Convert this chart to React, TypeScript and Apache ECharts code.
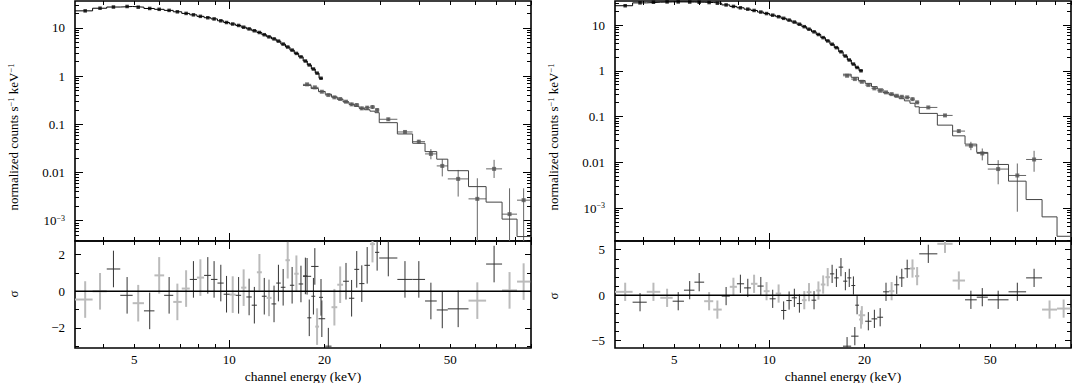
import React, { useEffect, useRef } from "react";
import * as echarts from "echarts";

// ---------- axis ranges / ticks ----------
const X_MIN = 3.25;
const X_MAX = 90;
const X_LABEL_VALUES = [5, 10, 20, 50];
const X_MINOR_TICKS = [4, 5, 6, 7, 8, 9, 20, 30, 40, 50, 60, 70, 80, 90];
const X_MAJOR_TICKS = [10];

const LEFT_Y_RANGE = [3.8e-4, 36];
const RIGHT_Y_RANGE = [1.9e-4, 33.5];
const LOG_LABEL_EXPONENTS = [1, 0, -1, -2, -3];

const LEFT_RES_RANGE = [-3.1, 2.75];
const LEFT_RES_LABELS = [-2, 0, 2];
const LEFT_RES_TICKS = [-3, -1, 1];
const RIGHT_RES_RANGE = [-5.8, 5.95];
const RIGHT_RES_LABELS = [-5, 0, 5];
const RIGHT_RES_TICKS = [-4, -3, -2, -1, 1, 2, 3, 4];

// ---------- low-energy (black) spectra ----------
const PCA_ENERGY = [3.5, 3.9, 4.3, 4.75, 5.15, 5.6, 6.0, 6.45, 6.85, 7.3, 7.7, 8.1, 8.55, 8.95, 9.4, 9.8, 10.25, 10.7, 11.1, 11.55, 12.0, 12.45, 12.9, 13.35, 13.85, 14.3, 14.8, 15.3, 15.8, 16.3, 16.85, 17.4, 17.9, 18.45, 18.95, 19.5];

const LEFT_PCA_RATE = [22.5, 25.5, 27, 27.7, 26.8, 25.2, 24.2, 23.0, 21.5, 19.9, 18.6, 17.3, 16.2, 15.3, 14.0, 12.9, 12.0, 11.2, 10.3, 9.5, 8.7, 8.0, 7.2, 6.5, 5.9, 5.3, 4.6, 4.0, 3.45, 2.95, 2.5, 2.05, 1.7, 1.4, 1.15, 0.9];
const LEFT_PCA_RESID = [-0.45, 0.0, 1.22, -0.22, -0.65, -1.07, 0.87, -0.22, -0.58, 0.15, 0.65, 0.75, 0.87, 0.65, 0.45, -0.16, -0.18, -0.22, 0.2, -0.31, -0.76, 1.04, -0.27, -0.36, -0.69, 0.45, 0.22, 1.7, 0.33, 0.96, 0.4, 0.84, -1.45, -0.27, -1.93, -0.33];
const LEFT_PCA_LIGHT = [1, 1, 0, 0, 1, 0, 1, 0, 1, 1, 0, 1, 0, 0, 0, 0, 1, 0, 1, 0, 0, 1, 0, 1, 0, 0, 0, 1, 0, 1, 0, 0, 0, 0, 1, 0];

const RIGHT_PCA_RATE = [26.4, 30.5, 31.5, 32, 32, 31.8, 31.5, 31, 30, 27.5, 25.5, 23.8, 22.2, 20.8, 19.2, 17.8, 16.4, 15.2, 14.0, 12.8, 11.6, 10.4, 9.2, 8.1, 7.1, 6.2, 5.3, 4.5, 3.8, 3.2, 2.6, 2.1, 1.72, 1.4, 1.18, 1.0];
const RIGHT_PCA_RESID = [0.37, -0.77, 0.37, -0.29, -0.66, 0.55, 1.43, -0.66, -1.58, -0.1, 0.92, 1.25, 0.8, 1.25, 1.0, 0.44, -0.4, 0.18, -1.68, -0.59, -0.29, -0.92, -0.55, 0.33, -0.55, 0.51, 1.17, 1.98, 2.34, 1.9, 3.08, 1.54, 1.9, 1.06, -1.1, -2.67];
const RIGHT_PCA_LIGHT = [1, 0, 1, 1, 0, 0, 0, 1, 1, 0, 1, 0, 0, 1, 0, 1, 0, 1, 0, 0, 0, 0, 1, 1, 0, 1, 1, 1, 0, 0, 0, 0, 0, 0, 0, 1];

// ---------- high-energy (grey) spectra ----------
const HEXTE_EDGES = [17.1, 18.15, 19.15, 20.1, 21.05, 21.95, 22.9, 23.9, 24.85, 25.75, 26.75, 27.85, 28.9, 29.8, 34.0, 38.0, 41.6, 45.3, 49.1, 57.1, 64.9, 72.9, 81.3, 89.5];

const LEFT_HEXTE_RATE = [0.673, 0.583, 0.473, 0.404, 0.362, 0.334, 0.294, 0.259, 0.251, 0.214, 0.221, 0.228, 0.198, 0.127, 0.0693, 0.0436, 0.0243, 0.0137, 0.00737, 0.00284, 0.0119, 0.00137, 0.00267];
const LEFT_HEXTE_LO = [0.64, 0.555, 0.45, 0.385, 0.34, 0.315, 0.275, 0.24, 0.232, 0.197, 0.202, 0.208, 0.18, 0.118, 0.0645, 0.04, 0.0188, 0.0083, 0.00317, 1e-6, 0.0077, 1e-6, 1e-6];
const LEFT_HEXTE_HI = [0.71, 0.61, 0.5, 0.425, 0.385, 0.355, 0.315, 0.28, 0.27, 0.232, 0.24, 0.248, 0.216, 0.136, 0.0745, 0.0475, 0.0305, 0.0188, 0.0113, 0.0076, 0.0183, 0.0047, 0.0047];
const LEFT_HEXTE_MODEL = [0.64, 0.55, 0.48, 0.42, 0.37, 0.33, 0.29, 0.26, 0.235, 0.215, 0.2, 0.187, 0.174, 0.108, 0.063, 0.0404, 0.0271, 0.0189, 0.0109, 0.0051, 0.00243, 0.00108, 0.00047];
const LEFT_HEXTE_RESID = [0.82, 1.36, -1.5, -3.0, -0.87, 0.36, 0.55, -0.38, 1.2, 0.42, 1.42, 2.58, 2.13, 1.82, 0.65, 0.65, -0.53, -1.02, -0.96, -0.51, 1.49, 0.05, 0.53];
const LEFT_HEXTE_LIGHT = [0, 0, 0, 0, 1, 1, 0, 0, 0, 0, 0, 1, 0, 0, 0, 0, 0, 0, 0, 1, 0, 1, 1];

const RIGHT_HEXTE_RATE = [0.778, 0.658, 0.574, 0.487, 0.412, 0.365, 0.337, 0.309, 0.284, 0.27, 0.262, 0.24, 0.204, 0.158, 0.1057, 0.048, 0.0229, 0.0156, 0.0071, 0.00514, 0.0115, null, null];
const RIGHT_HEXTE_LO = [0.745, 0.63, 0.55, 0.465, 0.392, 0.346, 0.318, 0.29, 0.266, 0.252, 0.244, 0.222, 0.188, 0.148, 0.098, 0.044, 0.0184, 0.011, 0.0033, 0.00083, 0.0062, null, null];
const RIGHT_HEXTE_HI = [0.81, 0.69, 0.6, 0.51, 0.432, 0.384, 0.356, 0.328, 0.302, 0.288, 0.28, 0.258, 0.22, 0.168, 0.113, 0.052, 0.028, 0.02, 0.0111, 0.0094, 0.0178, null, null];
const RIGHT_HEXTE_MODEL = [0.84, 0.72, 0.61, 0.53, 0.45, 0.4, 0.33, 0.3, 0.27, 0.245, 0.22, 0.195, 0.163, 0.117, 0.0648, 0.0378, 0.0249, 0.0164, 0.00895, 0.00386, 0.00153, 0.00064, 0.000241];
const RIGHT_HEXTE_RESID = [-5.6, -4.5, -2.2, -2.86, -2.6, -2.42, 0.37, 0.44, 1.14, 1.9, 2.9, 2.93, 2.09, 4.54, 5.64, 1.61, -0.51, -0.22, -0.51, 0.37, 1.9, -1.58, -1.47];
const RIGHT_HEXTE_LIGHT = [0, 0, 1, 0, 0, 0, 0, 1, 0, 0, 0, 1, 1, 0, 1, 1, 0, 0, 0, 0, 0, 1, 1];

// ---------- helpers ----------
const FONT = "'Liberation Serif', 'Times New Roman', serif";
const lg = (v: number) => Math.log10(v);

function pcaEdges(c: number[]) {
  const e = [X_MIN];
  for (let i = 1; i < c.length; i++) e.push(Math.sqrt(c[i - 1] * c[i]));
  e.push((c[c.length - 1] * c[c.length - 1]) / e[e.length - 1]);
  return e;
}

function logMinor(min: number, max: number) {
  const out: number[] = [];
  for (let d = Math.floor(lg(min)); d <= Math.ceil(lg(max)); d++)
    for (let k = 2; k <= 9; k++) {
      const v = k * Math.pow(10, d);
      if (v >= min && v <= max) out.push(lg(v));
    }
  return out;
}
function logMajor(min: number, max: number) {
  const out: number[] = [];
  for (let d = Math.floor(lg(min)); d <= Math.ceil(lg(max)); d++) {
    const v = Math.pow(10, d);
    if (v >= min && v <= max) out.push(d);
  }
  return out;
}

function stepLine(edges: number[], vals: (number | null)[]) {
  const pts: any[] = [];
  vals.forEach((v, i) => {
    if (v == null) return;
    pts.push([lg(edges[i]), lg(v)], [lg(edges[i + 1]), lg(v)]);
  });
  return pts;
}

const crossRender = (dark: string, light: string, dw: number, lw: number) => (params: any, api: any) => {
  const cs = params.coordSys;
  const x0 = cs.x, x1 = cs.x + cs.width, y0 = cs.y, y1 = cs.y + cs.height;
  const c = api.coord([api.value(0), api.value(1)]);
  const l = api.coord([api.value(2), api.value(1)]);
  const r = api.coord([api.value(3), api.value(1)]);
  const lo = api.coord([api.value(0), api.value(4)]);
  const hi = api.coord([api.value(0), api.value(5)]);
  const isLight = api.value(6) === 1;
  const stroke = isLight ? light : dark;
  const w = isLight ? lw : dw;
  const cl = (v: number, a: number, b: number) => Math.max(a, Math.min(b, v));
  const children: any[] = [];
  if (c[1] >= y0 && c[1] <= y1)
    children.push({ type: "line", shape: { x1: cl(l[0], x0, x1), y1: c[1], x2: cl(r[0], x0, x1), y2: c[1] }, style: { stroke, lineWidth: w } });
  const ya = cl(hi[1], y0, y1), yb = cl(lo[1], y0, y1);
  if (yb > ya) children.push({ type: "line", shape: { x1: c[0], y1: ya, x2: c[0], y2: yb }, style: { stroke, lineWidth: w } });
  return { type: "group", children };
};

function buildOption() {
  const grids: any[] = [];
  const xAxes: any[] = [];
  const yAxes: any[] = [];
  const series: any[] = [];
  const labelStyle = { color: "#000", fontFamily: FONT, fontSize: 13 };

  const addAxes = (list: any[], gi: number, min: number, max: number, posA: string, posB: string, minor: number[], major: number[], lenMinor: number, lenMajor: number, label: any) => {
    const first = list.length;
    for (const pos of [posA, posB]) {
      for (const [vals, len] of [[minor, lenMinor], [major, lenMajor]] as [number[], number][]) {
        list.push({
          type: "value", gridIndex: gi, min, max, position: pos, scale: true,
          axisLine: { show: false, onZero: false }, splitLine: { show: false },
          axisTick: { show: vals.length > 0, inside: true, length: len, customValues: vals, lineStyle: { color: "#000", width: 1 } },
          axisLabel: { show: false },
        });
      }
    }
    if (label) list[first].axisLabel = label;
    return first;
  };

  const panel = (left: number, yRange: number[], resRange: number[], resLabels: number[], resTicks: number[],
    pcaRate: number[], pcaRes: number[], pcaLight: number[],
    hRate: (number | null)[], hLo: (number | null)[], hHi: (number | null)[], hModel: number[], hRes: number[], hLight: number[]) => {
    const W = 456;
    const gTop = grids.length;
    grids.push({ left, top: 1, width: W, height: 240, show: true, borderColor: "#000", borderWidth: 1.6, backgroundColor: "transparent" });
    const gRes = grids.length;
    grids.push({ left, top: 241, width: W, height: 107, show: true, borderColor: "#000", borderWidth: 1.6, backgroundColor: "transparent" });

    const xminor = X_MINOR_TICKS.map(lg), xmajor = X_MAJOR_TICKS.map(lg);
    const xTop = addAxes(xAxes, gTop, lg(X_MIN), lg(X_MAX), "bottom", "top", xminor, xmajor, 4, 8, null);
    const xRes = addAxes(xAxes, gRes, lg(X_MIN), lg(X_MAX), "bottom", "top", xminor, xmajor, 4, 8, {
      show: true, margin: 5, customValues: X_LABEL_VALUES.map(lg), ...labelStyle,
      formatter: (v: number) => String(Math.round(Math.pow(10, v))),
    });

    const yMin = lg(yRange[0]), yMax = lg(yRange[1]);
    const yTop = addAxes(yAxes, gTop, yMin, yMax, "left", "right", logMinor(yRange[0], yRange[1]), logMajor(yRange[0], yRange[1]), 4, 8, {
      show: true, margin: 10, customValues: LOG_LABEL_EXPONENTS, ...labelStyle,
      formatter: (v: number) => {
        const e = Math.round(v);
        if (e === 1) return "10";
        if (e === 0) return "1";
        if (e === -1) return "0.1";
        if (e === -2) return "0.01";
        return "10{s|−" + -e + "}";
      },
      rich: { s: { fontSize: 8, verticalAlign: "top", fontFamily: FONT, color: "#000", lineHeight: 8 } },
    });
    const yRes = addAxes(yAxes, gRes, resRange[0], resRange[1], "left", "right", resTicks, resLabels, 4, 6, {
      show: true, margin: 10, customValues: resLabels, ...labelStyle,
      formatter: (v: number) => (v < 0 ? "−" + Math.abs(v) : String(v)),
    });

    const pe = pcaEdges(PCA_ENERGY);
    series.push({ type: "line", xAxisIndex: xTop, yAxisIndex: yTop, data: stepLine(pe, pcaRate), showSymbol: false, symbol: "none", lineStyle: { color: "#000", width: 1 }, z: 3 });
    series.push({ type: "scatter", xAxisIndex: xTop, yAxisIndex: yTop, data: PCA_ENERGY.map((e, i) => [lg(e), lg(pcaRate[i])]), symbol: "rect", symbolSize: 3.5, itemStyle: { color: "#000" }, z: 4 });
    series.push({ type: "line", xAxisIndex: xTop, yAxisIndex: yTop, data: stepLine(HEXTE_EDGES, hModel), showSymbol: false, symbol: "none", lineStyle: { color: "#444", width: 1 }, z: 3 });
    const hData: any[] = [];
    hRate.forEach((v, i) => {
      if (v == null) return;
      const a = HEXTE_EDGES[i], b = HEXTE_EDGES[i + 1];
      hData.push([lg(Math.sqrt(a * b)), lg(v), lg(a), lg(b), lg(hLo[i] as number), lg(hHi[i] as number), 0]);
    });
    series.push({ type: "custom", xAxisIndex: xTop, yAxisIndex: yTop, data: hData, renderItem: crossRender("#666", "#bbb", 1, 2), z: 3 });
    series.push({ type: "scatter", xAxisIndex: xTop, yAxisIndex: yTop, data: hData.map((d) => [d[0], d[1]]), symbol: "rect", symbolSize: 4, itemStyle: { color: "#555" }, z: 4 });

    series.push({ type: "line", xAxisIndex: xRes, yAxisIndex: yRes, data: [[lg(X_MIN), 0], [lg(X_MAX), 0]], showSymbol: false, symbol: "none", lineStyle: { color: "#000", width: 1.5 }, z: 5 });
    const rData: any[] = [];
    PCA_ENERGY.forEach((e, i) => rData.push([lg(e), pcaRes[i], lg(pe[i]), lg(pe[i + 1]), pcaRes[i] - 1, pcaRes[i] + 1, pcaLight[i]]));
    hRes.forEach((r, i) => {
      const a = HEXTE_EDGES[i], b = HEXTE_EDGES[i + 1];
      rData.push([lg(Math.sqrt(a * b)), r, lg(a), lg(b), r - 1, r + 1, hLight[i]]);
    });
    rData.sort((p, q) => q[6] - p[6]);
    series.push({ type: "custom", xAxisIndex: xRes, yAxisIndex: yRes, data: rData, renderItem: crossRender("#333", "#bbb", 1, 2), z: 3 });
  };

  panel(75, LEFT_Y_RANGE, LEFT_RES_RANGE, LEFT_RES_LABELS, LEFT_RES_TICKS,
    LEFT_PCA_RATE, LEFT_PCA_RESID, LEFT_PCA_LIGHT,
    LEFT_HEXTE_RATE, LEFT_HEXTE_LO, LEFT_HEXTE_HI, LEFT_HEXTE_MODEL, LEFT_HEXTE_RESID, LEFT_HEXTE_LIGHT);
  panel(615, RIGHT_Y_RANGE, RIGHT_RES_RANGE, RIGHT_RES_LABELS, RIGHT_RES_TICKS,
    RIGHT_PCA_RATE, RIGHT_PCA_RESID, RIGHT_PCA_LIGHT,
    RIGHT_HEXTE_RATE, RIGHT_HEXTE_LO, RIGHT_HEXTE_HI, RIGHT_HEXTE_MODEL, RIGHT_HEXTE_RESID, RIGHT_HEXTE_LIGHT);

  const sup = { s: { fontSize: 8.5, verticalAlign: "top", fontFamily: FONT, fill: "#000", lineHeight: 8 } };
  const yTitle = (x: number) => ({
    type: "text", x, y: 137, rotation: Math.PI / 2,
    style: { text: "normalized counts s{s|−1} keV{s|−1}", fontFamily: FONT, fontSize: 13, fill: "#000", align: "center", verticalAlign: "middle", rich: sup },
  });
  const sigma = (x: number, y: number) => ({
    type: "text", x, y, rotation: Math.PI / 2,
    style: { text: "σ", fontFamily: FONT, fontSize: 13, fill: "#000", align: "center", verticalAlign: "middle" },
  });
  const xTitle = (x: number) => ({
    type: "text", x, y: 376,
    style: { text: "channel energy (keV)", fontFamily: FONT, fontSize: 13.5, fill: "#000", align: "center", verticalAlign: "middle" },
  });

  return {
    animation: false,
    backgroundColor: "#fff",
    grid: grids,
    xAxis: xAxes,
    yAxis: yAxes,
    series,
    graphic: [yTitle(13), yTitle(553), sigma(13, 294), sigma(553, 296), xTitle(303), xTitle(843)],
  };
}

export default function App() {
  const ref = useRef<HTMLDivElement>(null);
  useEffect(() => {
    if (!ref.current) return;
    const chart = echarts.init(ref.current, undefined, { renderer: "svg" });
    chart.setOption(buildOption() as any);
    return () => chart.dispose();
  }, []);
  return <div ref={ref} style={{ position: "fixed", left: 0, top: 0, width: 1072, height: 383, background: "#fff" }} />;
}
